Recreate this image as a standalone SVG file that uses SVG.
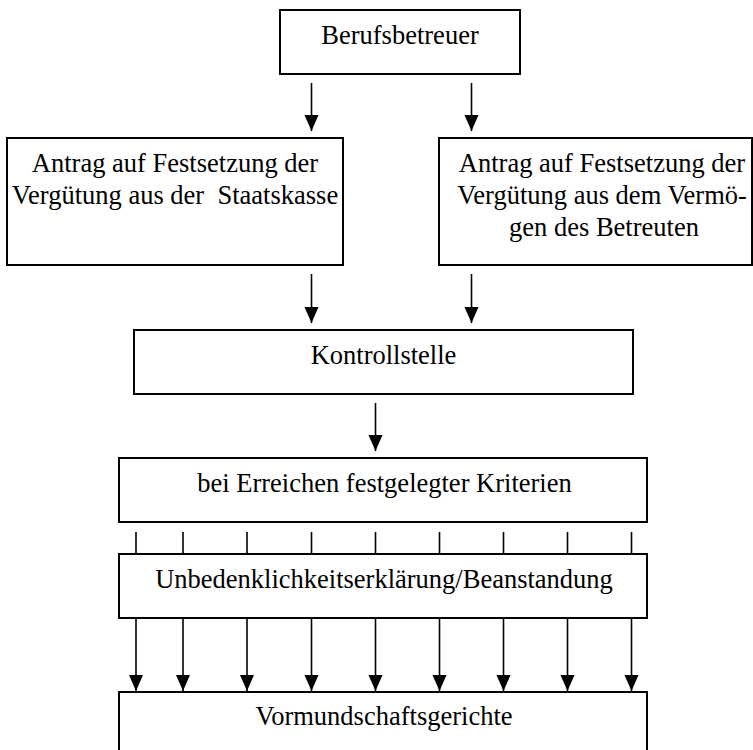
<svg xmlns="http://www.w3.org/2000/svg" width="753" height="750" viewBox="0 0 753 750">
  <style>
    .box { fill: #ffffff; stroke: #000000; stroke-width: 2; }
    .lbl { font-family: "Liberation Serif", "Times New Roman", serif; font-size: 26.5px; fill: #000000; text-anchor: middle; white-space: pre; }
    .conn line { stroke: #000000; stroke-width: 1.6; }
    .arr { marker-end: url(#head); }
  </style>
  <defs>
    <marker id="head" markerUnits="userSpaceOnUse" markerWidth="17" markerHeight="15" refX="16" refY="7" orient="auto" viewBox="0 0 17 15">
      <path d="M0,0 L16,7 L0,14 Z" fill="#000000"/>
    </marker>
  </defs>
  <rect width="753" height="750" fill="#ffffff"/>

  <g id="berufsbetreuer">
    <rect class="box" x="280" y="10" width="240" height="64"/>
    <text class="lbl" x="400" y="44">Berufsbetreuer</text>
  </g>

  <g id="antrag-staatskasse">
    <rect class="box" x="7" y="138" width="336" height="127"/>
    <text class="lbl" x="175" y="172" xml:space="preserve">Antrag auf Festsetzung der</text>
    <text class="lbl" x="175" y="204" xml:space="preserve">Vergütung aus der  Staatskasse</text>
  </g>

  <g id="antrag-vermoegen">
    <rect class="box" x="439" y="138" width="313" height="127"/>
    <text class="lbl" x="602" y="172">Antrag auf Festsetzung der</text>
    <text class="lbl" x="602" y="204">Vergütung aus dem Vermö-</text>
    <text class="lbl" x="604" y="236">gen des Betreuten</text>
  </g>

  <g id="kontrollstelle">
    <rect class="box" x="134" y="330" width="499" height="64"/>
    <text class="lbl" x="383.5" y="364">Kontrollstelle</text>
  </g>

  <g id="kriterien">
    <rect class="box" x="119" y="458" width="528" height="64"/>
    <text class="lbl" x="384.5" y="492">bei Erreichen festgelegter Kriterien</text>
  </g>

  <g id="unbedenklichkeit">
    <rect class="box" x="119" y="554" width="528" height="64"/>
    <text class="lbl" x="384" y="588">Unbedenklichkeitserklärung/Beanstandung</text>
  </g>

  <g id="vormundschaftsgerichte">
    <rect class="box" x="119" y="692" width="528" height="70"/>
    <text class="lbl" x="384" y="725">Vormundschaftsgerichte</text>
  </g>

  <g id="connectors" class="conn">
    <line class="arr" x1="311.5" y1="83" x2="311.5" y2="131"/>
    <line class="arr" x1="471.5" y1="83" x2="471.5" y2="131"/>
    <line class="arr" x1="311.5" y1="274" x2="311.5" y2="323"/>
    <line class="arr" x1="471.5" y1="274" x2="471.5" y2="323"/>
    <line class="arr" x1="375.5" y1="403" x2="375.5" y2="451"/>

    <line x1="136" y1="532" x2="136" y2="554"/>
    <line x1="183" y1="532" x2="183" y2="554"/>
    <line x1="247" y1="532" x2="247" y2="554"/>
    <line x1="311.5" y1="532" x2="311.5" y2="554"/>
    <line x1="375.5" y1="532" x2="375.5" y2="554"/>
    <line x1="439.5" y1="532" x2="439.5" y2="554"/>
    <line x1="503.5" y1="532" x2="503.5" y2="554"/>
    <line x1="567.5" y1="532" x2="567.5" y2="554"/>
    <line x1="631.5" y1="532" x2="631.5" y2="554"/>

    <line class="arr" x1="136" y1="618" x2="136" y2="691"/>
    <line class="arr" x1="183" y1="618" x2="183" y2="691"/>
    <line class="arr" x1="247" y1="618" x2="247" y2="691"/>
    <line class="arr" x1="311.5" y1="618" x2="311.5" y2="691"/>
    <line class="arr" x1="375.5" y1="618" x2="375.5" y2="691"/>
    <line class="arr" x1="439.5" y1="618" x2="439.5" y2="691"/>
    <line class="arr" x1="503.5" y1="618" x2="503.5" y2="691"/>
    <line class="arr" x1="567.5" y1="618" x2="567.5" y2="691"/>
    <line class="arr" x1="631.5" y1="618" x2="631.5" y2="691"/>
  </g>
</svg>
